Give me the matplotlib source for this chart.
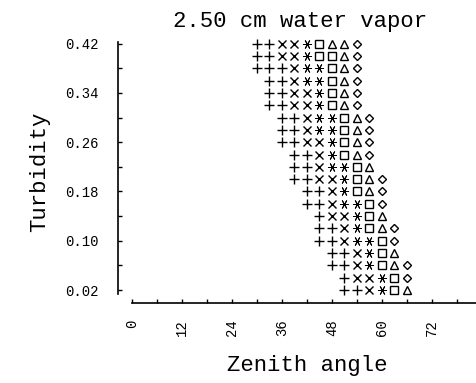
import matplotlib.pyplot as plt
import numpy as np

# turbidity rows, top to bottom
turbidity = [0.42, 0.40, 0.38, 0.36, 0.34, 0.32, 0.30, 0.28, 0.26, 0.24, 0.22,
             0.20, 0.18, 0.16, 0.14, 0.12, 0.10, 0.08, 0.06, 0.04, 0.02]
# zenith angle of the first symbol in each row
start_angle = [30, 30, 30, 33, 33, 33, 36, 36, 36, 39, 39,
               39, 42, 42, 45, 45, 45, 48, 48, 51, 51]
# symbols plotted in each row, one per 3 degrees
row_symbols = ["++XX*□ΔΔ◇", "++XX*□□Δ◇", "+++X**□Δ◇", "++X**□Δ◇", "++XX*□Δ◇",
               "++XX*□Δ◇", "++X**□Δ◇", "++X**□Δ◇", "++XX*□Δ◇", "++X*□Δ◇",
               "++X**□Δ", "++XX*□Δ◇", "++X*□Δ◇", "++X**□◇", "+XX*□Δ",
               "++X*□Δ◇", "++X**□◇", "++X*□Δ", "++X*□Δ◇", "+XX*□◇", "++X*□Δ"]
angle_step = 3

x_ticks = [0, 12, 24, 36, 48, 60, 72]
y_ticks = [0.02, 0.10, 0.18, 0.26, 0.34, 0.42]

# symbol -> (marker, size, edge width)
markers = {
    "+": ("+", 6.5, 1.0),
    "X": ("x", 6, 1.0),
    "*": ((6, 2, 90), 6.5, 0.7),
    "□": ("s", 5.3, 1.0),
    "Δ": ("^", 6, 1.0),
    "◇": ("D", 4.3, 1.0),
}

font = "Liberation Mono"

fig = plt.figure(figsize=(4.76, 3.83), dpi=100)
ax = fig.add_axes([118 / 476, 80 / 383, 358 / 476, 272 / 383])

for sym, (mk, ms, mw) in markers.items():
    xs, ys = [], []
    for t, a0, s in zip(turbidity, start_angle, row_symbols):
        for i, c in enumerate(s):
            if c == sym:
                xs.append(a0 + angle_step * i)
                ys.append(t)
    ax.plot(xs, ys, linestyle="none", marker=mk, markersize=ms,
            markerfacecolor="none", markeredgecolor="black", markeredgewidth=mw)

ax.set_xlim(-3.36, 82.6)
ax.set_ylim(-0.001, 0.4405)

for side in ["top", "right"]:
    ax.spines[side].set_visible(False)
ax.spines["left"].set_bounds(0.013, 0.422)
ax.spines["bottom"].set_bounds(0, 82.6)
ax.spines["left"].set_linewidth(1.2)
ax.spines["bottom"].set_linewidth(1.2)

ax.set_xticks(x_ticks)
ax.set_xticks(np.arange(6, 84, 12), minor=True)
ax.set_yticks(y_ticks)
ax.set_yticks(np.arange(0.06, 0.42, 0.08), minor=True)
ax.tick_params(axis="both", which="both", direction="in", length=3, width=1)
ax.tick_params(axis="y", which="major", pad=14)
ax.tick_params(axis="x", which="major", pad=12)
ax.set_xticklabels([str(v) for v in x_ticks], rotation=90, fontfamily=font, fontsize=10)
ax.set_yticklabels([f"{v:.2f}" for v in y_ticks], fontfamily=font, fontsize=10)

fig.text(300 / 476, 1 - 21 / 383, "2.50 cm water vapor", ha="center", va="center",
         fontfamily=font, fontsize=16)
fig.text(40 / 476, 1 - 172 / 383, "Turbidity", ha="center", va="center",
         rotation=90, fontfamily=font, fontsize=16)
fig.text(307 / 476, 1 - 365 / 383, "Zenith angle", ha="center", va="center",
         fontfamily=font, fontsize=16)

fig.savefig("out.png", dpi=100)
